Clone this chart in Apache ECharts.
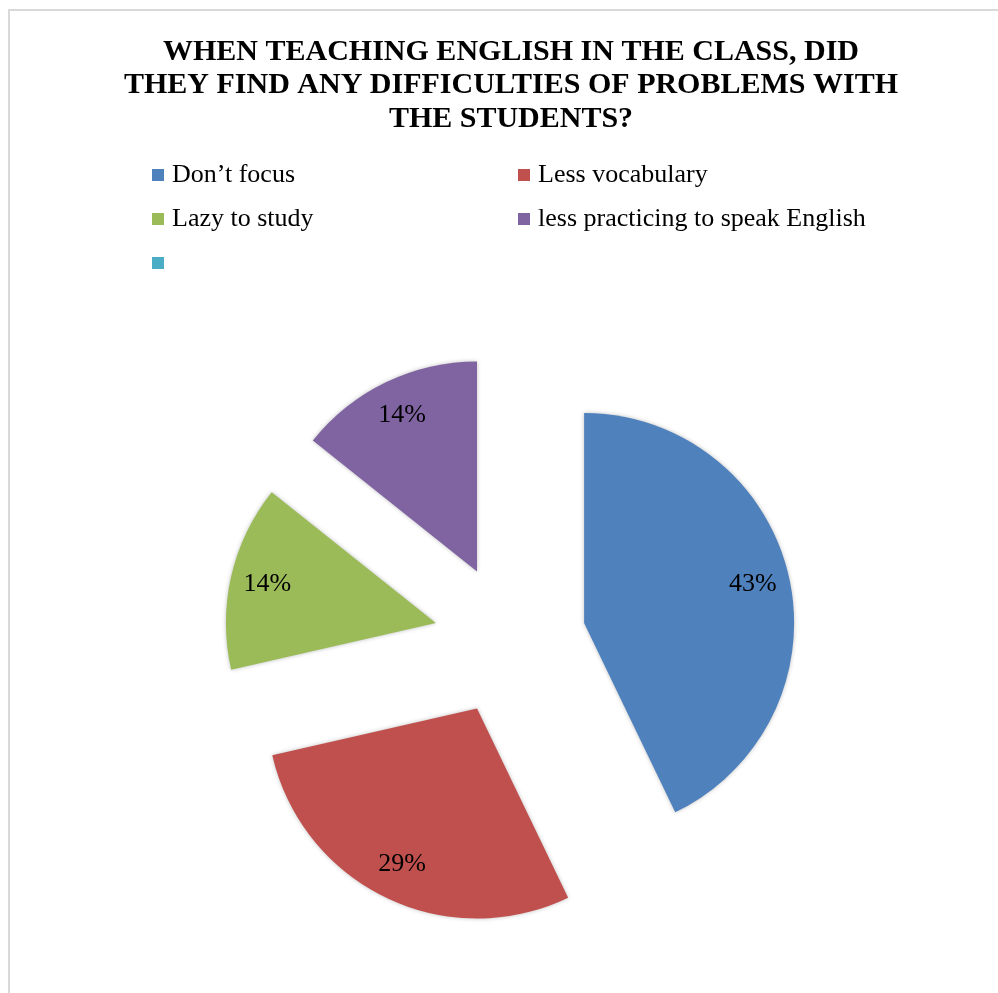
<!DOCTYPE html>
<html>
<head>
<meta charset="utf-8">
<script src="https://cdn.jsdelivr.net/npm/echarts@6/dist/echarts.min.js"></script>
<style>
  html, body { margin: 0; padding: 0; background: #fff; }
  #chart { width: 998px; height: 993px; }
</style>
</head>
<body>
<div id="chart"></div>
<script>
// Survey answers: number of respondents naming each difficulty
const categories = ["Don\u2019t focus", "Less vocabulary", "Lazy to study", "less practicing to speak English", " "];
const counts = [3, 2, 1, 1, 0];
const colors = ["#4F81BD", "#C0504D", "#9BBB59", "#8064A2", "#4BACC6"];
const titleLines = [
  "WHEN TEACHING ENGLISH IN THE CLASS, DID",
  "THEY FIND ANY DIFFICULTIES OF PROBLEMS WITH",
  "THE STUDENTS?"
];

const serif = "'Liberation Serif', 'Times New Roman', serif";
const pieCenter = [510, 640];
const pieRadius = 210;
const explode = 76;

const sliceData = categories.map((name, i) => ({
  name: name,
  value: counts[i],
  selected: counts[i] > 0,
  itemStyle: { color: colors[i] }
}));

const labelData = categories.map((name, i) => ({
  name: name,
  value: counts[i],
  selected: counts[i] > 0,
  label: { show: counts[i] > 0 }
}));

const legendText = { fontFamily: serif, fontSize: 26, lineHeight: 30, color: '#000', padding: [0, 0, 0, 3] };

const chart = echarts.init(document.getElementById('chart'), null, { renderer: 'canvas' });

chart.setOption({
  backgroundColor: '#ffffff',
  animation: false,
  color: colors,
  title: {
    text: titleLines.join('\n'),
    left: 506,
    top: 30,
    textAlign: 'center',
    textStyle: {
      fontFamily: serif,
      fontWeight: 'bold',
      fontSize: 30,
      lineHeight: 33.5,
      color: '#000'
    }
  },
  legend: [
    {
      orient: 'vertical',
      left: 147,
      top: 155,
      icon: 'rect',
      itemWidth: 12,
      itemHeight: 12,
      itemGap: 14,
      selectedMode: false,
      data: [categories[0], categories[2], categories[4]],
      textStyle: legendText
    },
    {
      orient: 'vertical',
      left: 513,
      top: 155,
      icon: 'rect',
      itemWidth: 12,
      itemHeight: 12,
      itemGap: 14,
      selectedMode: false,
      data: [categories[1], categories[3]],
      textStyle: legendText
    }
  ],
  graphic: [
    { type: 'line', shape: { x1: 8, y1: 10, x2: 998, y2: 10 }, style: { stroke: '#d9d9d9', lineWidth: 2 } },
    { type: 'line', shape: { x1: 9, y1: 10, x2: 9, y2: 993 }, style: { stroke: '#d9d9d9', lineWidth: 2 } }
  ],
  series: [
    {
      // exploded slices
      name: 'slices',
      type: 'pie',
      center: pieCenter,
      radius: [0, pieRadius],
      startAngle: 90,
      clockwise: true,
      selectedMode: 'multiple',
      selectedOffset: explode,
      avoidLabelOverlap: false,
      label: { show: false },
      labelLine: { show: false },
      emphasis: { scale: false },
      itemStyle: {
        borderWidth: 0,
        shadowBlur: 4,
        shadowColor: 'rgba(0,0,0,0.25)'
      },
      data: sliceData,
      z: 2
    },
    {
      // percentage labels, placed in the outer band of each slice
      name: 'labels',
      type: 'pie',
      center: pieCenter,
      radius: [130, pieRadius],
      startAngle: 90,
      clockwise: true,
      selectedMode: 'multiple',
      selectedOffset: explode,
      avoidLabelOverlap: false,
      silent: true,
      itemStyle: { color: 'rgba(0,0,0,0)', borderWidth: 0 },
      emphasis: { disabled: true },
      label: {
        show: true,
        position: 'inside',
        formatter: p => Math.round(p.percent) + '%',
        fontFamily: serif,
        fontSize: 26,
        color: '#000'
      },
      labelLine: { show: false },
      data: labelData,
      z: 3
    }
  ]
});
</script>
</body>
</html>
